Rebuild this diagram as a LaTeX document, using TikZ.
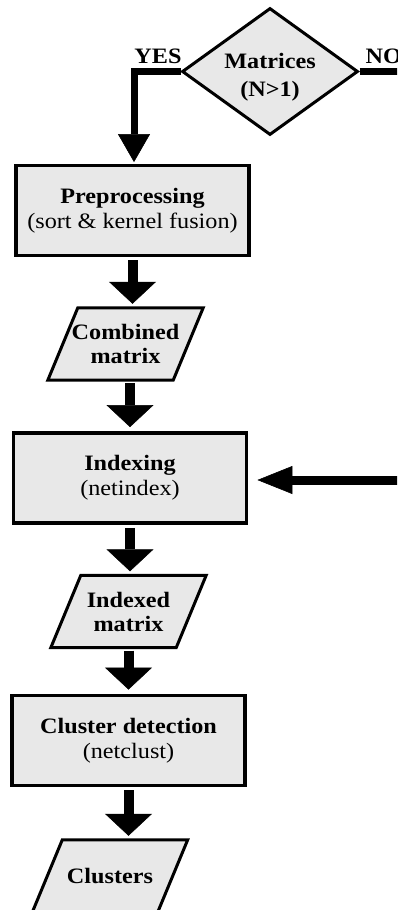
\documentclass[tikz,border=0pt]{standalone}
\usepackage{fontspec}
\setmainfont{Liberation Serif}[FakeStretch=1.1]
\usetikzlibrary{shapes.geometric,arrows.meta}
\definecolor{boxgray}{gray}{0.91}
\tikzset{
  every node/.style={font=\fontsize{22}{25}\selectfont},
  boldtext/.style={font=\fontsize{22}{24}\selectfont\bfseries, align=center},
  stage/.style={draw, line width=3.8pt, fill=boxgray, minimum width=233pt,
    minimum height=90pt, inner sep=0pt, align=center},
  dataframe/.style={minimum width=125pt, minimum height=72pt, inner sep=0pt},
  dataedge/.style={draw, line width=3pt, fill=boxgray, line join=miter},
  decision/.style={diamond, draw, line width=3pt, fill=boxgray,
    minimum width=176pt, minimum height=127pt, inner sep=0pt},
  flow/.style={line width=10pt, -{Triangle[length=22pt, width=47pt, line width=0.5pt]},
    shorten <=3pt, shorten >=4pt},
  branch/.style={line width=7pt},
  feed/.style={line width=9pt, -{Triangle[length=35pt, width=28pt, line width=0.5pt]},
    shorten >=9pt}
}
% slanted input/output box around a named frame node
\newcommand{\slantbox}[1]{%
  \path[dataedge] ([xshift=15pt]#1.north west) -- ([xshift=15pt]#1.north east)
    -- ([xshift=-15pt]#1.south east) -- ([xshift=-15pt]#1.south west) -- cycle;}
\begin{document}
\begin{tikzpicture}[x=1pt, y=-1pt]
\useasboundingbox (0,0) rectangle (397,910);
\clip (0,0) rectangle (397,910);

% decision and its two branches
\node[decision, label={[yshift=-6pt, align=center,
  font=\fontsize{22}{28}\selectfont\bfseries]center:Matrices\\(N>1)}] (dec) at (270,71.5) {};
\node[boldtext, anchor=base] (yes) at (158,63) {YES};
\node[boldtext, anchor=base west] (no) at (362,63) {NO};

% processing steps
\node[stage] (pre) at (132.5,210.5) {\textbf{Preprocessing}\\(sort \& kernel fusion)};
\node[stage] (idx) at (130,478) {\textbf{Indexing}\\(netindex)};
\node[stage] (clu) at (128.5,740.5) {\textbf{Cluster detection}\\(netclust)};

% data
\node[dataframe] (comb) at (125.5,344) {};
\slantbox{comb}
\node[boldtext] (combtext) at (comb) {Combined\\matrix};
\node[dataframe] (idxm) at (128.5,611.5) {};
\slantbox{idxm}
\node[boldtext] (idxmtext) at (idxm) {Indexed\\matrix};
\node[dataframe] (clus) at (110,876) {};
\slantbox{clus}
\node[boldtext] (clustext) at (clus) {Clusters};

% connectors
\draw[branch, -{Triangle[length=28pt, width=32pt, line width=0.5pt]}, shorten >=1.5pt]
  (dec.west) -| ([xshift=1.5pt]pre.north);
\coordinate (noend) at (400,71.5);
\draw[branch] (dec.east) -- (noend);

\draw[flow] (pre.south) -- (pre.south |- comb.north);
\draw[flow] (idx.north |- comb.south) -- (idx.north);
\draw[flow] (idx.south) -- (idx.south |- idxm.north);
\draw[flow] (clu.north |- idxm.south) -- (clu.north);
\draw[flow] (clu.south) -- (clu.south |- clus.north);

\coordinate (inlet) at (400,480);
\draw[feed] (inlet) -- (inlet -| idx.east);
\end{tikzpicture}
\end{document}
